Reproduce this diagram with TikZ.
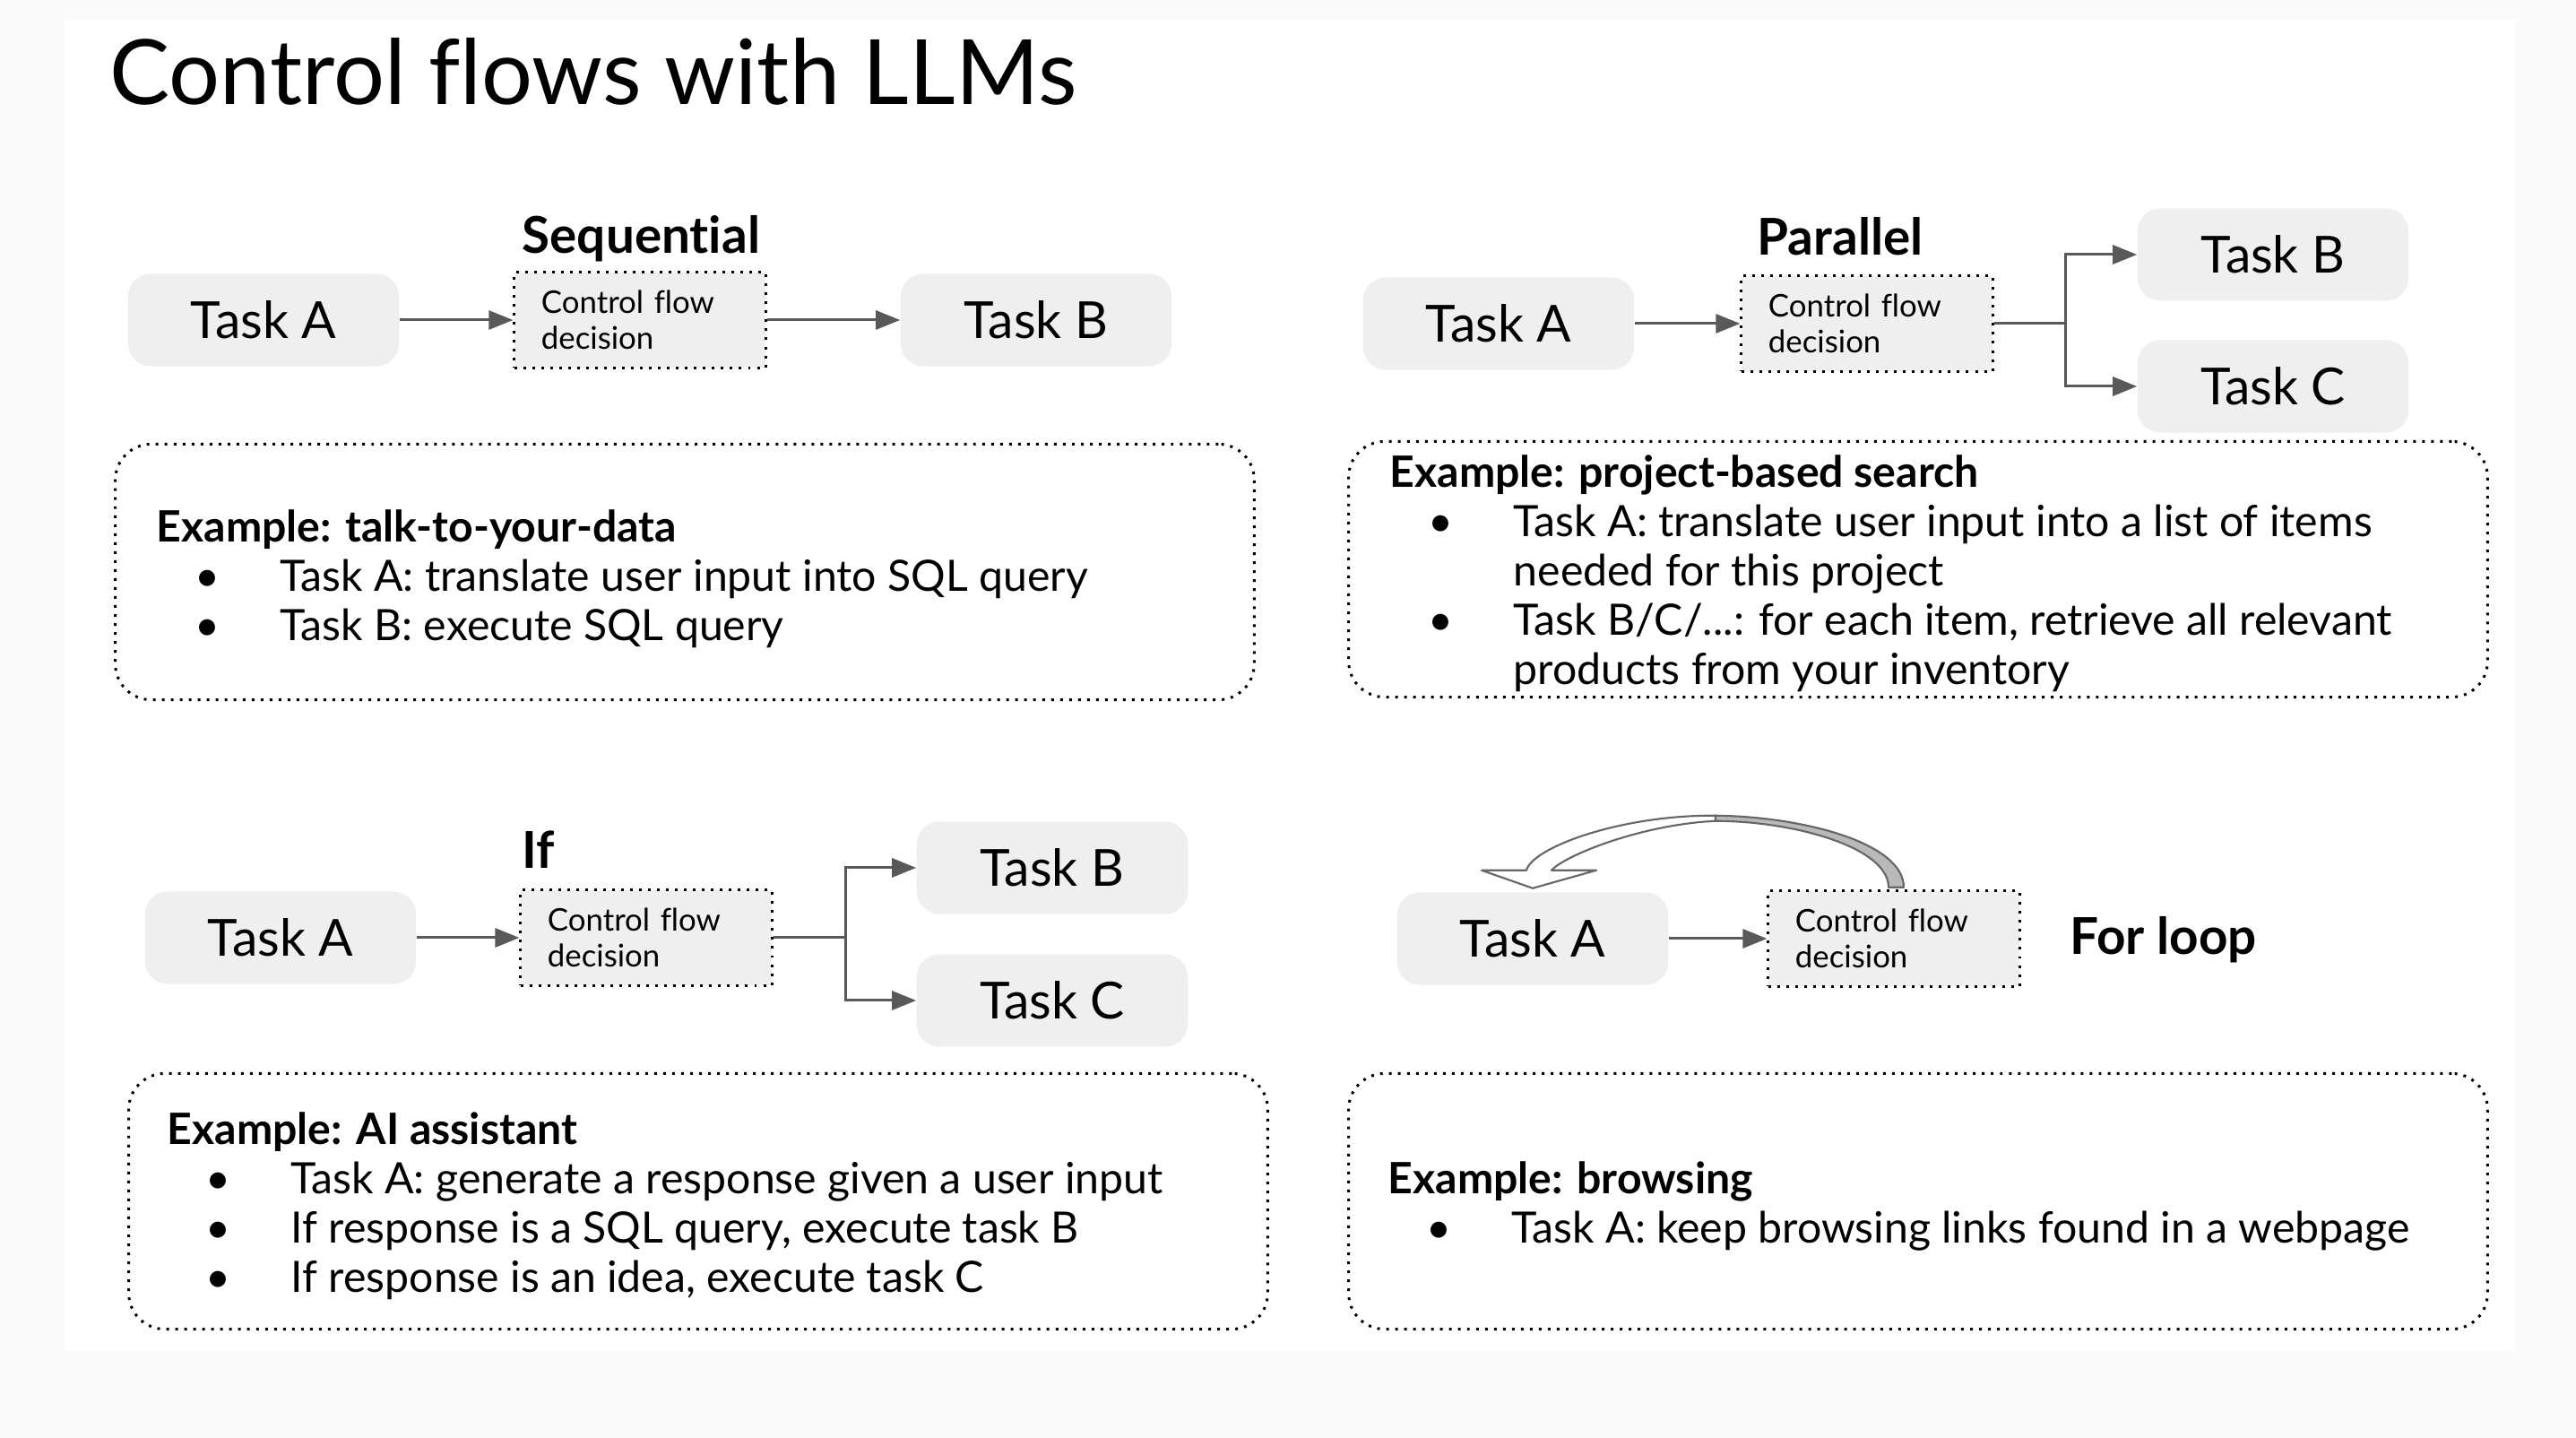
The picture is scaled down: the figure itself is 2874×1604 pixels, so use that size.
\documentclass[tikz,border=0pt]{standalone}
\usepackage{fontspec}
\setmainfont[Ligatures=NoCommon]{Lato}
\usetikzlibrary{arrows.meta}
\definecolor{boxgray}{RGB}{239,239,239}
\definecolor{arrgray}{RGB}{89,89,89}
\definecolor{loopgray}{RGB}{185,185,185}
\definecolor{loopline}{RGB}{102,102,102}
\definecolor{pagegray}{RGB}{250,250,250}
\newcommand{\bul}{\makebox[1.38cm][l]{\hspace{0.43cm}\textbullet}}

\begin{document}
\begin{tikzpicture}[x=0.01cm,y=-0.01cm,
    task/.style={fill=boxgray,rounded corners=0.25cm,minimum width=3.02cm,minimum height=1.03cm,font=\fontsize{16.2}{19}\selectfont},
    cfbox/.style={fill=boxgray,draw,line width=0.85pt,dash pattern=on 0.85pt off 2pt,text width=2.2cm,inner xsep=0.3cm,minimum height=1.06cm,align=left,font=\fontsize{9.9}{11.4}\selectfont},
    exbox/.style={draw,line width=0.85pt,dash pattern=on 0.85pt off 2pt,rounded corners=0.4cm,minimum width=12.7cm,minimum height=2.85cm},
    extext/.style={anchor=base west,align=left,inner sep=0pt,font=\fontsize{13.7}{15.65}\selectfont},
    head/.style={anchor=base west,inner sep=0pt,font=\bfseries\fontsize{16.1}{18}\selectfont},
    arr/.style={draw=arrgray,line width=0.85pt,-{Triangle[length=0.27cm,width=0.21cm]}},
    link/.style={draw=arrgray,line width=0.85pt}]
    \useasboundingbox (0,0) rectangle (2874,1604);
    \fill[pagegray] (0,0) rectangle (2874,1604);
    \fill[white] (72,22) rectangle (2806,1507);

    \node (title) at (122,117) [anchor=base west,inner sep=0pt,font=\fontsize{28.6}{34}\selectfont] {Control flows with LLMs};

    % sequential
    \node (sA) at (294,357) [task] {Task A};
    \node (sCF) at (714,357) [cfbox] {Control flow\\decision};
    \node (sB) at (1156,357) [task] {Task B};
    \node (sHead) at (582,283) [head] {Sequential};
    \draw[arr] (sA.east) -- (sCF.west);
    \draw[arr] (sCF.east) -- (sB.west);
    \node (sEx) at (764,638) [exbox] {};
    \node (sTxt) at (174,715) [extext] {\textbf{Example: talk-to-your-data}\\
        \bul Task A: translate user input into SQL query\\
        \bul Task B: execute SQL query};

    % parallel
    \node (pA) at (1672,361) [task] {Task A};
    \node (pCF) at (2083,361) [cfbox] {Control flow\\decision};
    \node (pB) at (2536,284) [task] {Task B};
    \node (pC) at (2536,431) [task] {Task C};
    \node (pHead) at (1960,285) [head] {Parallel};
    \coordinate (pJ) at (2304,361);
    \draw[arr] (pA.east) -- (pCF.west);
    \draw[link] (pCF.east) -- (pJ);
    \draw[arr] (pJ) |- (pB.west);
    \draw[arr] (pJ) |- (pC.west);
    \node (pEx) at (2140,635) [exbox] {};
    \node (pTxt) at (1550,764) [extext] {\textbf{Example: project-based search}\\
        \bul Task A: translate user input into a list of items\\
        \hspace*{1.38cm}needed for this project\\
        \bul Task B/C/...: for each item, retrieve all relevant\\
        \hspace*{1.38cm}products from your inventory};

    % if
    \node (iA) at (313,1046) [task] {Task A};
    \node (iCF) at (721,1046) [cfbox] {Control flow\\decision};
    \node (iB) at (1174,968) [task] {Task B};
    \node (iC) at (1174,1116) [task] {Task C};
    \node (iHead) at (582,969) [head] {If};
    \coordinate (iJ) at (943,1046);
    \draw[arr] (iA.east) -- (iCF.west);
    \draw[link] (iCF.east) -- (iJ);
    \draw[arr] (iJ) |- (iB.west);
    \draw[arr] (iJ) |- (iC.west);
    \node (iEx) at (779,1340) [exbox] {};
    \node (iTxt) at (186,1442) [extext] {\textbf{Example: AI assistant}\\
        \bul Task A: generate a response given a user input\\
        \bul If response is a SQL query, execute task B\\
        \bul If response is an idea, execute task C};

    % for loop
    \node (fA) at (1710,1047) [task] {Task A};
    \node (fCF) at (2113,1047) [cfbox] {Control flow\\decision};
    \node (fHead) at (2309,1065) [head] {For loop};
    \draw[arr] (fA.east) -- (fCF.west);
    \begin{scope}[shift={(fA.north)},line width=0.6pt,line join=round]
        \filldraw[fill=white,draw=loopline] (-57,-24) -- (0,-4) -- (71,-24) -- (21,-24) .. controls (35,-40) and (120,-75) .. (204,-79) -- (204,-85) .. controls (100,-86) and (0,-50) .. (-7,-24) -- cycle;
        \filldraw[fill=loopgray,draw=loopline] (204,-85) .. controls (300,-84) and (414,-55) .. (414,-5) -- (397,-5) .. controls (397,-50) and (290,-79) .. (204,-79) -- cycle;
    \end{scope}
    \node (fEx) at (2140,1340) [exbox] {};
    \node (fTxt) at (1548,1387) [extext] {\textbf{Example: browsing}\\
        \bul Task A: keep browsing links found in a webpage};
\end{tikzpicture}
\end{document}
